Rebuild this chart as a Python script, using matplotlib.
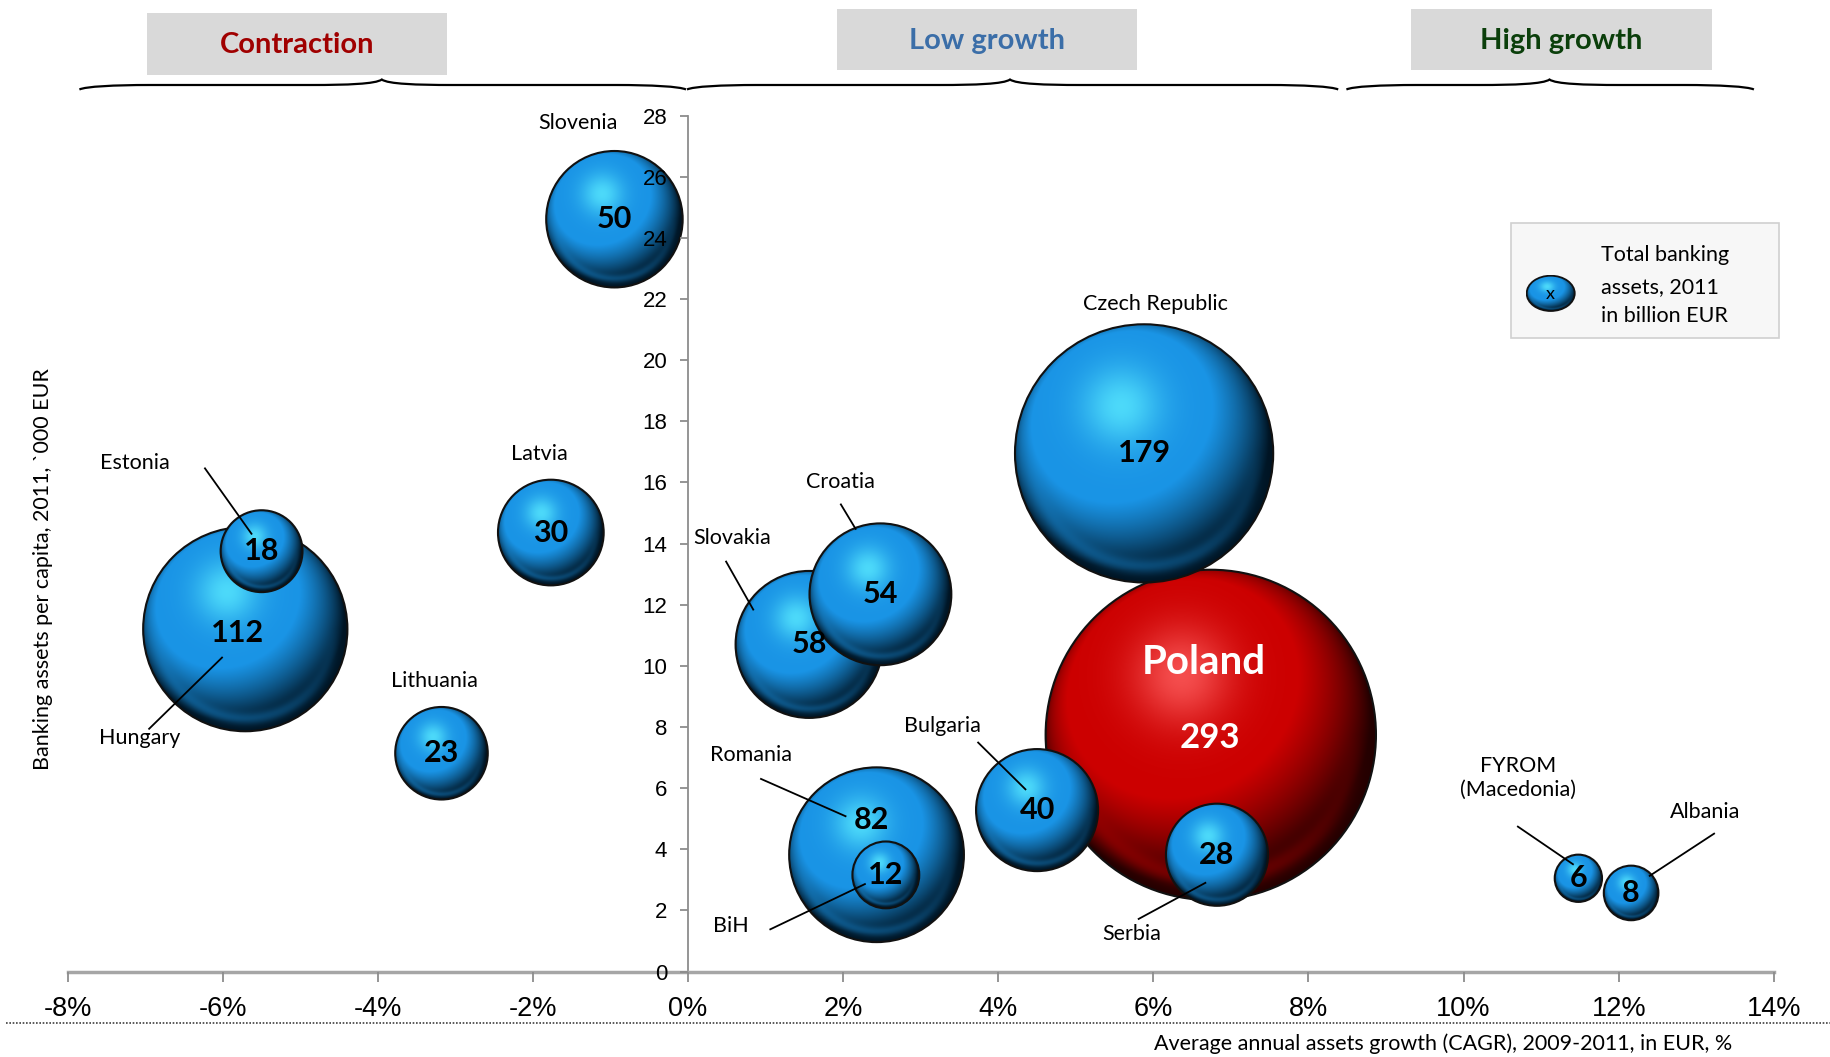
import numpy as np
import matplotlib
matplotlib.use("Agg")
import matplotlib.pyplot as plt
from matplotlib.patches import Ellipse, Rectangle, PathPatch
from matplotlib.path import Path
from matplotlib.lines import Line2D

# data (drawn largest first, like Excel does)
countries = ["Poland", "Czech Republic", "Hungary", "Romania", "Slovakia", "Croatia",
             "Slovenia", "Bulgaria", "Latvia", "Serbia", "Lithuania", "Estonia", "BiH",
             "Albania", "FYROM\n(Macedonia)"]
growth = [6.74, 5.88, -5.71, 2.43, 1.56, 2.48, -0.95, 4.50, -1.77, 6.82, -3.18, -5.50,
          2.55, 12.16, 11.48]
per_capita = [7.74, 16.95, 11.20, 3.82, 10.70, 12.34, 24.61, 5.28, 14.36, 3.82, 7.14,
              13.75, 3.16, 2.57, 3.05]
assets = [293, 179, 112, 82, 58, 54, 50, 40, 30, 28, 23, 18, 12, 8, 6]

x_ticks = list(range(-8, 15, 2))
y_ticks = list(range(0, 29, 2))
segments = ["Contraction", "Low growth", "High growth"]

W, H = 1831, 1057
fx = lambda px: px / W
fy = lambda py: 1 - py / H

plt.rcParams['font.family'] = ['Lato', 'DejaVu Sans']

fig = plt.figure(figsize=(W / 100, H / 100), dpi=100)
ax = fig.add_axes([fx(67.7), fy(971.5), (1773.8 - 67.7) / W, (971.5 - 115.6) / H])
ax.set_xlim(-8, 14)
ax.set_ylim(0, 28)
ax.set_autoscale_on(False)

ax.spines['top'].set_visible(False)
ax.spines['right'].set_visible(False)
ax.spines['left'].set_position(('data', 0))
ax.spines['left'].set_color('#8C8C8C')
ax.spines['left'].set_linewidth(1.3)
ax.spines['bottom'].set_color('#A6A6A6')
ax.spines['bottom'].set_linewidth(2.5)
ax.set_xticks(x_ticks)
ax.set_xticklabels([f"{t}%" for t in x_ticks])
ax.set_yticks(y_ticks)
ax.tick_params(axis='x', direction='out', length=7, width=1.3, color='#8C8C8C',
               pad=11, labelsize=19.5)
ax.tick_params(axis='y', direction='out', length=6, width=1.3, color='#8C8C8C',
               pad=9, labelsize=16)
for lbl in ax.get_xticklabels() + ax.get_yticklabels():
    lbl.set_fontfamily('Liberation Sans')
ax.set_axisbelow(False)


def sphere(base, light, dark, n=300):
    t = np.linspace(-1, 1, n)
    u, v = np.meshgrid(t, t)
    rr = np.clip(np.hypot(u, v), 0, 1)
    w = np.sqrt(1 - rr ** 2)
    L = np.array([-0.25, 0.4, 0.88])
    L = L / np.linalg.norm(L)
    diff = np.clip(u * L[0] + v * L[1] + w * L[2], 0, 1)
    shade = np.clip(diff * 1.45, 0, 1) ** 1.2
    col = dark + (base - dark) * shade[..., None]
    hl = np.exp(-((u + 0.18) ** 2 + (v - 0.36) ** 2) / 0.09)
    col = col + (light - col) * (0.8 * hl)[..., None]
    rim = np.exp(-((rr - 0.88) / 0.06) ** 2) * np.clip(-v, 0, 1)
    col = col + (base * 1.1 - col) * (0.4 * rim)[..., None]
    return np.clip(col, 0, 1)


blue_img = sphere(np.array([0.10, 0.58, 0.90]), np.array([0.35, 0.92, 1.0]),
                  np.array([0.0, 0.08, 0.14]))
red_img = sphere(np.array([0.80, 0.0, 0.0]), np.array([1.0, 0.38, 0.38]),
                 np.array([0.14, 0.0, 0.0]))

bubble_scale = 9.65  # pixel radius per sqrt(bn EUR)
for i, (name, gx, py, a) in enumerate(zip(countries, growth, per_capita, assets)):
    r = bubble_scale * np.sqrt(a)
    cx, cy = ax.transData.transform((gx, py))
    (x0, y0), (x1, y1) = ax.transData.inverted().transform([(cx - r, cy - r), (cx + r, cy + r)])
    z = 2 + i * 0.02
    im = ax.imshow(red_img if name == "Poland" else blue_img, extent=[x0, x1, y0, y1],
                   origin='lower', aspect='auto', interpolation='bilinear', zorder=z)
    e = Ellipse((gx, py), x1 - x0, y1 - y0, facecolor='none', edgecolor='#111111',
                lw=1.5, zorder=z + 0.01)
    ax.add_patch(e)
    im.set_clip_path(e)

ax.set_xlim(-8, 14)
ax.set_ylim(0, 28)

# value labels
value_pos = {"Romania": (2.36, 4.97), "Hungary": (-5.81, 11.08), "Poland": (6.73, 7.64)}
for name, gx, py, a in zip(countries, growth, per_capita, assets):
    px, pyy = value_pos.get(name, (gx, py))
    if name == "Poland":
        ax.text(6.65, 10.12, "Poland", ha='center', va='center', fontsize=29,
                fontweight='bold', color='white', zorder=10)
        ax.text(px, pyy, str(a), ha='center', va='center', fontsize=25,
                fontweight='bold', color='white', zorder=10)
    else:
        ax.text(px, pyy, str(a), ha='center', va='center', fontsize=22,
                fontweight='bold', color='black', zorder=10)

# country names and leader lines
name_pos = {
    "Slovenia": (-1.42, 27.77), "Estonia": (-7.13, 16.65), "Hungary": (-7.07, 7.64),
    "Latvia": (-1.92, 16.92), "Lithuania": (-3.27, 9.51), "Croatia": (1.97, 16.0),
    "Slovakia": (0.57, 14.17), "Romania": (0.81, 7.07), "BiH": (0.55, 1.49),
    "Bulgaria": (3.28, 8.02), "Czech Republic": (6.02, 21.85), "Serbia": (5.72, 1.22),
    "FYROM\n(Macedonia)": (10.70, 6.34), "Albania": (13.11, 5.23),
}
leaders = {
    "Estonia": ((-6.23, 16.46), (-5.63, 14.32)),
    "Hungary": ((-6.95, 7.94), (-6.01, 10.27)),
    "Croatia": ((1.97, 15.28), (2.16, 14.48)),
    "Slovakia": ((0.49, 13.41), (0.84, 11.84)),
    "Romania": ((0.94, 6.30), (2.03, 5.08)),
    "BiH": ((1.06, 1.38), (2.28, 2.86)),
    "Bulgaria": ((3.74, 7.49), (4.35, 5.96)),
    "Serbia": ((5.81, 1.72), (6.67, 2.90)),
    "FYROM\n(Macedonia)": ((10.70, 4.74), (11.41, 3.51)),
    "Albania": ((13.23, 4.51), (12.40, 3.13)),
}
for name, (lx, ly) in name_pos.items():
    ax.text(lx, ly, name, ha='center', va='center', fontsize=15.5, color='black',
            zorder=12, linespacing=1.25)
for name, ((ax0, ay0), (ax1, ay1)) in leaders.items():
    ax.plot([ax0, ax1], [ay0, ay1], color='black', lw=1.3, zorder=11)

# axis titles
fig.text(fx(43.2), fy(568.7), "Banking assets per capita, 2011, `000 EUR", rotation=90,
         ha='center', va='center', fontsize=15.5)
fig.text(fx(1732), fy(1044), "Average annual assets growth (CAGR), 2009-2011, in EUR, %",
         ha='right', va='center', fontsize=15.5)
fig.add_artist(Line2D([fx(6), fx(1831)], [fy(1023), fy(1023)], transform=fig.transFigure,
                      color='#404040', lw=1.2, linestyle=(0, (1, 1))))

# segment header boxes
boxes = [(147, 447, 13, 75), (837, 1137, 9, 70), (1411, 1712, 9, 70)]
head_colors = ['#A00000', '#3B6EA8', '#0B3F0B']
for label, (bx0, bx1, by0, by1), c in zip(segments, boxes, head_colors):
    fig.add_artist(Rectangle((fx(bx0), fy(by1)), (bx1 - bx0) / W, (by1 - by0) / H,
                             transform=fig.transFigure, facecolor='#D9D9D9', edgecolor='none'))
    fig.text(fx((bx0 + bx1) / 2), fy((by0 + by1) / 2 + 1), label, ha='center', va='center',
             fontsize=21, fontweight='bold', color=c)


def brace(x0, x1, xt, y_end=89.5, y_body=85, y_tip=79.5, c=70):
    pts = [(x0, y_end),
           (x0 + 6, y_body + 1.5), (x0 + c * 0.5, y_body), (x0 + c, y_body),
           (xt - c, y_body),
           (xt - c * 0.5, y_body), (xt - 6, y_body - 1), (xt, y_tip),
           (xt + 6, y_body - 1), (xt + c * 0.5, y_body), (xt + c, y_body),
           (x1 - c, y_body),
           (x1 - c * 0.5, y_body), (x1 - 6, y_body + 1.5), (x1, y_end)]
    codes = ([Path.MOVETO] + [Path.CURVE4] * 3 + [Path.LINETO] + [Path.CURVE4] * 6 +
             [Path.LINETO] + [Path.CURVE4] * 3)
    verts = [(fx(x), fy(y)) for x, y in pts]
    fig.add_artist(PathPatch(Path(verts, codes), transform=fig.transFigure,
                             facecolor='none', edgecolor='black', lw=1.6))


brace(79.4, 686.0, 381.8)
brace(687.0, 1338.2, 1010.0)
brace(1346.4, 1753.9, 1549.5)

# legend
fig.add_artist(Rectangle((fx(1510.7), fy(338.3)), (1779 - 1510.7) / W, (338.3 - 223.3) / H,
                         transform=fig.transFigure, facecolor='#F7F7F7', edgecolor='#D0D0D0',
                         lw=1.2, zorder=1))
lax = fig.add_axes([fx(1525.7), fy(311.7), 50 / W, 36.7 / H])
lax.set_zorder(5)
lax.set_xlim(-1.04, 1.04)
lax.set_ylim(-1.04, 1.04)
lax.axis('off')
lim = lax.imshow(blue_img, extent=[-1, 1, -1, 1], origin='lower', aspect='auto')
le = Ellipse((0, 0), 2, 2, facecolor='none', edgecolor='#111111', lw=1.3)
lax.add_patch(le)
lim.set_clip_path(le)
lax.text(0, -0.05, "x", ha='center', va='center', fontsize=13)
for txt, ly in zip(["Total banking", "assets, 2011", "in billion EUR"], [255, 286.7, 316]):
    fig.text(fx(1601), fy(ly), txt, ha='left', va='center', fontsize=15.5)

fig.savefig("out.png", dpi=100)
